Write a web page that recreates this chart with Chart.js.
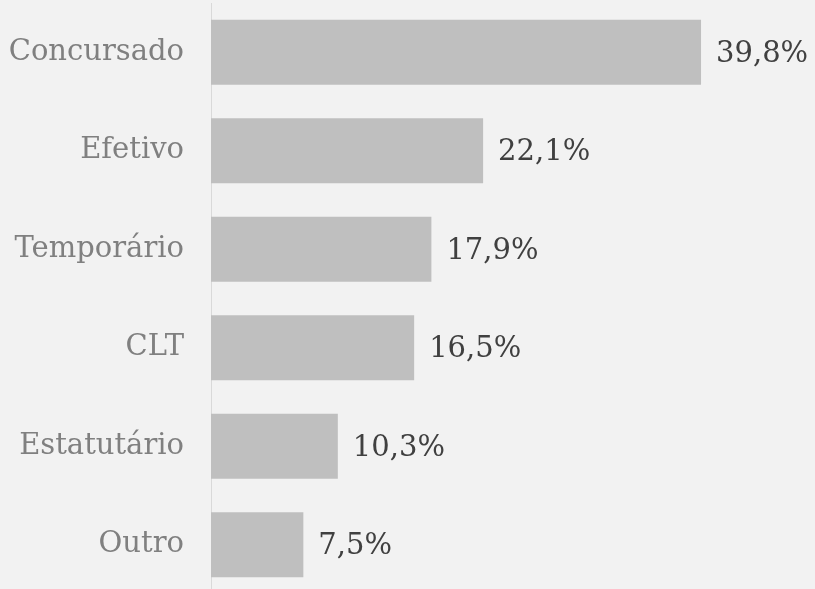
<!DOCTYPE html>
<html>
<head>
<meta charset="utf-8">
<script src="https://cdn.jsdelivr.net/npm/chart.js@4"></script>
<style>
  html, body { margin: 0; padding: 0; background: #f2f2f2; overflow: hidden; }
  #wrap { width: 815px; height: 595px; }
</style>
</head>
<body>
<div id="wrap"><canvas id="myChart" width="815" height="595"></canvas></div>
<script>
'use strict';
const categories = ['Concursado', 'Efetivo', 'Temporário', 'CLT', 'Estatutário', 'Outro'];
const values = [39.8, 22.1, 17.9, 16.5, 10.3, 7.5];
const valueLabels = ['39,8%', '22,1%', '17,9%', '16,5%', '10,3%', '7,5%'];

const FONT = '"DejaVu Serif", Georgia, serif';

// draws the value text to the right of each bar
const barValues = {
    id: 'barValues',
    afterDatasetsDraw(chart) {
        const ctx = chart.ctx;
        const meta = chart.getDatasetMeta(0);
        ctx.save();
        ctx.font = '29px ' + FONT;
        ctx.fillStyle = '#404040';
        ctx.textAlign = 'left';
        ctx.textBaseline = 'middle';
        meta.data.forEach((bar, i) => {
            ctx.fillText(valueLabels[i], bar.x + 15, bar.y + 2);
        });
        ctx.restore();
    }
};

const ctx = document.getElementById('myChart').getContext('2d');
const myChart = new Chart(ctx, {
    type: 'bar',
    data: {
        labels: categories,
        datasets: [{
            data: values,
            backgroundColor: '#bfbfbf',
            borderWidth: 0,
            barPercentage: 0.66,
            categoryPercentage: 1
        }]
    },
    plugins: [barValues],
    options: {
        indexAxis: 'y',
        responsive: false,
        animation: false,
        layout: { padding: { top: 3, right: 13, bottom: 1, left: 0 } },
        plugins: {
            legend: { display: false },
            tooltip: { enabled: false }
        },
        scales: {
            x: {
                display: false,
                min: 0,
                max: 48
            },
            y: {
                afterFit(scale) {
                    scale.width = 211;
                    scale.paddingTop = 0;
                    scale.paddingBottom = 0;
                },
                grid: { display: false, drawTicks: false },
                border: { display: true, color: '#d9d9d9', width: 1 },
                ticks: {
                    padding: 27,
                    color: '#808080',
                    font: { family: FONT, size: 29 }
                }
            }
        }
    }
});
</script>
</body>
</html>
